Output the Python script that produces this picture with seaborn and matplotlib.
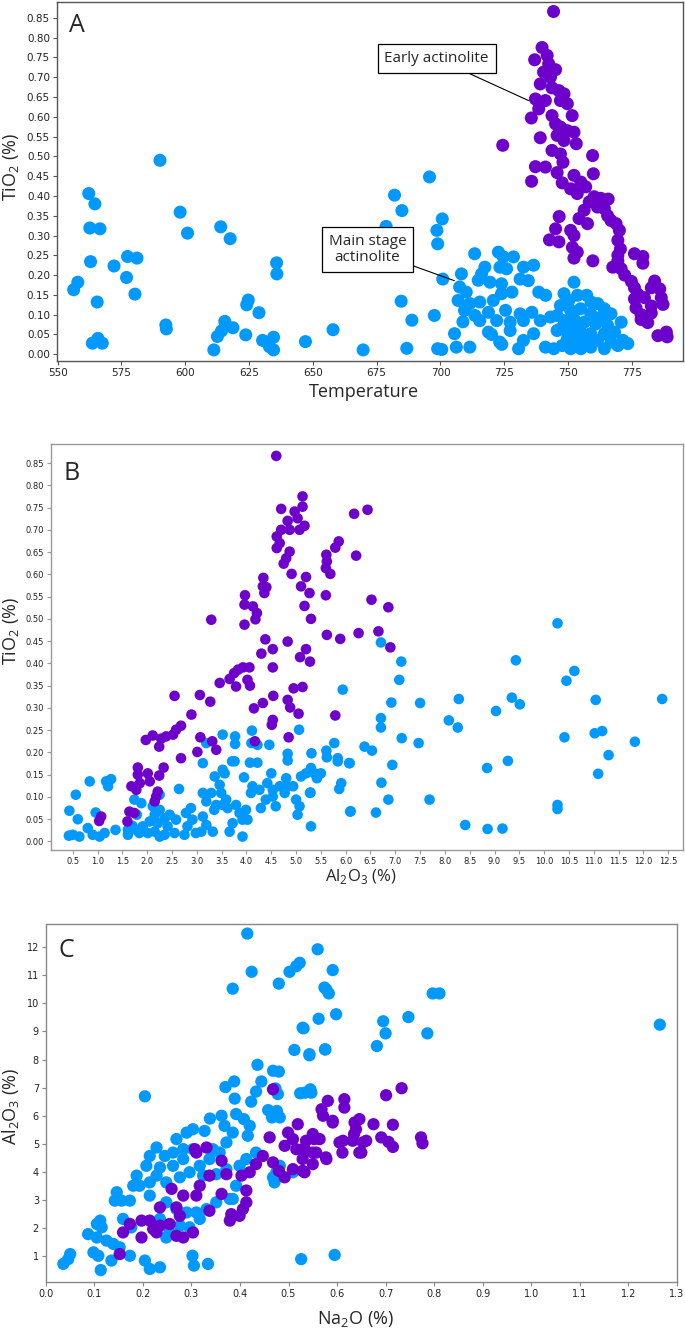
import matplotlib
matplotlib.use("Agg")
import matplotlib.pyplot as plt
import seaborn as sns
import pandas as pd
import numpy as np
from matplotlib.ticker import FormatStrFormatter

BLUE = "#0099ff"
PURPLE = "#6e00cc"

# Panel A: temperature vs TiO2 (%)
a_main = [(556.3, 0.163), (557.9, 0.182), (562.2, 0.406), (564.6, 0.380), (562.6, 0.319), (566.6, 0.317),
          (562.9, 0.234), (565.5, 0.132), (563.6, 0.028), (565.8, 0.040), (567.5, 0.028), (572.1, 0.223),
          (577.4, 0.247), (581.1, 0.243), (577.0, 0.194), (580.3, 0.152), (590.1, 0.490), (592.4, 0.074),
          (592.6, 0.064), (598.0, 0.359), (600.9, 0.306), (611.2, 0.011), (612.6, 0.045), (614.2, 0.059),
          (615.5, 0.083), (618.7, 0.067), (613.9, 0.322), (617.6, 0.292), (623.7, 0.049), (624.1, 0.125),
          (624.7, 0.137), (628.9, 0.105), (630.3, 0.035), (633.0, 0.019), (634.6, 0.011), (634.6, 0.043),
          (635.8, 0.231), (635.9, 0.203), (647.1, 0.032), (657.9, 0.062), (669.7, 0.011), (678.7, 0.323),
          (682.0, 0.402), (684.9, 0.363), (684.6, 0.134), (686.8, 0.015), (688.8, 0.086),
          (695.7, 0.448), (700.7, 0.342), (698.6, 0.313), (698.9, 0.279), (700.9, 0.190), (697.6, 0.098),
          (698.9, 0.014), (700.5, 0.012), (708.2, 0.203), (713.4, 0.254), (722.7, 0.258), (724.6, 0.246),
          (728.6, 0.246), (732.5, 0.220), (736.5, 0.225), (717.4, 0.220), (723.3, 0.220), (725.9, 0.216),
          (716.1, 0.203), (714.8, 0.187), (719.4, 0.182), (723.9, 0.178), (731.2, 0.190), (734.4, 0.186),
          (738.5, 0.157), (741.2, 0.149), (752.3, 0.182), (707.5, 0.170), (710.1, 0.157), (706.9, 0.136),
          (711.5, 0.128), (715.4, 0.132), (720.7, 0.136), (723.9, 0.153), (728.0, 0.157), (709.4, 0.111),
          (713.5, 0.098), (718.8, 0.106), (725.5, 0.111), (731.2, 0.102), (735.8, 0.106), (708.8, 0.082),
          (715.4, 0.085), (722.0, 0.085), (727.3, 0.081), (732.5, 0.085), (739.1, 0.085), (743.1, 0.094),
          (705.5, 0.052), (706.2, 0.018), (711.5, 0.018), (718.8, 0.056), (723.2, 0.031), (727.3, 0.060),
          (730.6, 0.014), (732.5, 0.035), (736.5, 0.052), (741.1, 0.018), (744.4, 0.014), (747.7, 0.022),
          (745.7, 0.060), (748.4, 0.153), (750.3, 0.136), (753.7, 0.149), (757.3, 0.149), (759.0, 0.132),
          (761.6, 0.128), (764.2, 0.115), (766.8, 0.102), (770.8, 0.081), (747.0, 0.123), (751.0, 0.111),
          (754.9, 0.115), (758.9, 0.102), (762.9, 0.094), (745.7, 0.098), (748.4, 0.085), (752.3, 0.089),
          (756.3, 0.081), (760.9, 0.077), (765.5, 0.073), (747.0, 0.064), (751.0, 0.060), (755.0, 0.056),
          (758.9, 0.052), (764.2, 0.052), (768.2, 0.056), (749.7, 0.039), (753.6, 0.035), (757.6, 0.039),
          (761.5, 0.035), (766.8, 0.031), (751.0, 0.014), (755.0, 0.014), (758.9, 0.018), (764.2, 0.014),
          (769.5, 0.022), (773.4, 0.027), (771.5, 0.035), (752.3, 0.069), (720.0, 0.050), (724.0, 0.025)]

a_early = [(744.3, 0.866), (739.8, 0.775), (736.9, 0.744), (741.8, 0.755), (742.4, 0.734), (745.1, 0.719),
           (740.4, 0.713), (743.1, 0.700), (739.1, 0.683), (743.7, 0.673), (746.4, 0.666), (748.4, 0.658),
           (737.2, 0.645), (741.1, 0.641), (747.0, 0.641), (749.7, 0.633), (738.5, 0.620), (751.6, 0.603),
           (735.6, 0.597), (743.7, 0.603), (745.1, 0.582), (747.0, 0.574), (749.7, 0.565), (752.3, 0.561),
           (739.1, 0.547), (745.7, 0.553), (748.4, 0.540), (753.2, 0.532), (724.4, 0.528), (743.7, 0.515),
           (747.0, 0.506), (748.0, 0.485), (759.6, 0.502), (737.2, 0.474), (741.1, 0.473), (745.7, 0.459),
           (759.9, 0.456), (735.7, 0.437), (752.3, 0.452), (747.7, 0.433), (755.0, 0.435), (751.0, 0.418),
           (756.9, 0.423), (753.6, 0.406), (760.2, 0.398), (762.8, 0.394), (765.7, 0.392), (758.3, 0.385),
           (761.5, 0.372), (764.2, 0.368), (756.3, 0.364), (746.5, 0.348), (754.3, 0.343), (765.5, 0.350),
           (757.6, 0.330), (766.8, 0.338), (768.8, 0.330), (745.1, 0.317), (751.0, 0.313), (770.1, 0.313),
           (752.3, 0.300), (742.7, 0.289), (746.4, 0.284), (769.5, 0.288), (751.7, 0.270), (770.5, 0.266),
           (753.6, 0.258), (776.0, 0.254), (769.5, 0.250), (779.3, 0.247), (752.3, 0.243), (769.5, 0.236),
           (759.7, 0.236), (779.3, 0.230), (767.5, 0.220), (770.8, 0.216), (772.2, 0.200), (774.8, 0.184),
           (783.9, 0.185), (776.0, 0.168), (782.6, 0.168), (777.3, 0.152), (785.9, 0.165), (776.0, 0.140),
           (779.9, 0.143), (786.5, 0.143), (776.6, 0.117), (782.6, 0.122), (787.2, 0.126), (778.6, 0.100),
           (782.6, 0.104), (781.2, 0.080), (778.6, 0.088), (785.2, 0.047), (788.5, 0.056), (788.8, 0.044)]

# Panel B: Al2O3 (%) vs TiO2 (%)
b_main = [(5.94, 0.341), (6.38, 0.213), (0.42, 0.013), (0.50, 0.015), (0.63, 0.011), (0.80, 0.030),
          (0.90, 0.015), (1.04, 0.011), (1.14, 0.019), (1.36, 0.026), (0.43, 0.069), (0.60, 0.050),
          (0.56, 0.105), (0.84, 0.135), (0.96, 0.065), (1.17, 0.135), (1.27, 0.140), (1.21, 0.124),
          (1.61, 0.015), (1.61, 0.026), (1.74, 0.094), (1.88, 0.086), (1.78, 0.026), (1.91, 0.034),
          (2.05, 0.045), (1.84, 0.019), (2.01, 0.019), (2.15, 0.022), (2.25, 0.011), (2.35, 0.015),
          (2.21, 0.041), (2.15, 0.060), (2.11, 0.079), (2.25, 0.071), (2.25, 0.105), (2.35, 0.052),
          (2.41, 0.034), (2.55, 0.019), (2.58, 0.049), (2.64, 0.118), (2.75, 0.015), (2.78, 0.064),
          (2.88, 0.075), (2.91, 0.049), (2.81, 0.034), (2.98, 0.019), (3.12, 0.109), (3.19, 0.090),
          (3.12, 0.056), (3.19, 0.037), (3.09, 0.022), (3.32, 0.022), (3.29, 0.109), (3.36, 0.146),
          (3.39, 0.082), (3.46, 0.127), (3.56, 0.153), (3.52, 0.161), (3.49, 0.109), (3.59, 0.094),
          (3.66, 0.022), (3.72, 0.041), (3.79, 0.082), (3.86, 0.064), (3.92, 0.049), (3.92, 0.011),
          (3.99, 0.071), (4.02, 0.049), (4.09, 0.109), (4.12, 0.124), (4.26, 0.116), (4.29, 0.075),
          (4.39, 0.094), (4.42, 0.131), (4.53, 0.116), (4.53, 0.101), (4.59, 0.079), (4.67, 0.124),
          (4.77, 0.109), (4.83, 0.124), (4.80, 0.142), (4.94, 0.124), (5.00, 0.094), (5.03, 0.060),
          (5.07, 0.079), (5.10, 0.146), (5.20, 0.153), (5.30, 0.165), (5.37, 0.153), (5.42, 0.142),
          (5.50, 0.153), (5.28, 0.109), (5.30, 0.034), (3.76, 0.180), (3.71, 0.180), (3.12, 0.176),
          (3.52, 0.240), (3.77, 0.236), (3.77, 0.219), (3.19, 0.221), (3.95, 0.144), (4.07, 0.177),
          (4.22, 0.177), (4.11, 0.249), (4.10, 0.221), (4.22, 0.217), (4.46, 0.217), (4.50, 0.153),
          (4.83, 0.197), (4.83, 0.182), (5.06, 0.251), (5.31, 0.198), (5.61, 0.204), (5.62, 0.189),
          (5.77, 0.221), (5.84, 0.187), (5.84, 0.180), (6.07, 0.176), (5.91, 0.131), (5.87, 0.118),
          (6.09, 0.067), (3.35, 0.071), (3.52, 0.082), (3.62, 0.075), (6.71, 0.447), (7.12, 0.404),
          (7.08, 0.363), (6.92, 0.312), (7.50, 0.311), (8.28, 0.320), (8.08, 0.272), (8.26, 0.256),
          (9.03, 0.293), (9.35, 0.323), (9.51, 0.308), (9.43, 0.407), (10.27, 0.490), (10.61, 0.383),
          (10.45, 0.361), (11.04, 0.318), (12.38, 0.320), (6.71, 0.277), (6.71, 0.256), (7.13, 0.232),
          (7.47, 0.221), (6.53, 0.204), (6.94, 0.172), (6.72, 0.132), (6.86, 0.094), (6.61, 0.065),
          (6.10, 0.068), (6.08, 0.176), (7.69, 0.094), (8.85, 0.165), (9.27, 0.181), (8.41, 0.037),
          (8.86, 0.028), (9.16, 0.029), (10.41, 0.234), (10.27, 0.082), (10.27, 0.073), (11.02, 0.243),
          (11.17, 0.248), (11.09, 0.152), (11.30, 0.194), (11.83, 0.224), (5.29, 0.110), (1.79, 0.060),
          (1.70, 0.035), (2.45, 0.060)]

b_early = [(4.60, 0.866), (5.13, 0.775), (4.70, 0.747), (4.97, 0.741), (5.13, 0.752), (4.83, 0.720),
           (5.03, 0.726), (4.70, 0.700), (4.87, 0.700), (5.07, 0.700), (5.17, 0.709), (4.61, 0.685),
           (4.67, 0.670), (4.61, 0.659), (4.87, 0.651), (4.80, 0.636), (4.75, 0.624), (4.91, 0.601),
           (5.20, 0.594), (5.10, 0.573), (5.27, 0.558), (5.17, 0.529), (5.30, 0.500), (4.34, 0.592),
           (4.33, 0.573), (4.40, 0.571), (4.36, 0.558), (3.97, 0.553), (3.96, 0.532), (4.13, 0.528),
           (4.21, 0.513), (4.18, 0.499), (3.96, 0.487), (3.29, 0.498), (4.38, 0.454), (4.83, 0.449),
           (4.53, 0.432), (4.30, 0.422), (4.53, 0.391), (5.20, 0.432), (5.08, 0.414), (5.28, 0.404),
           (5.61, 0.644), (5.62, 0.629), (5.60, 0.614), (5.69, 0.601), (5.60, 0.553), (5.62, 0.464),
           (5.89, 0.455), (5.79, 0.660), (5.86, 0.674), (6.17, 0.736), (6.21, 0.642), (6.44, 0.745),
           (6.26, 0.468), (4.06, 0.391), (3.93, 0.391), (3.83, 0.386), (3.75, 0.378), (3.66, 0.365),
           (3.79, 0.348), (4.02, 0.363), (4.07, 0.350), (3.46, 0.356), (3.27, 0.314), (3.06, 0.329),
           (2.55, 0.327), (2.89, 0.285), (4.15, 0.299), (4.33, 0.311), (4.54, 0.327), (4.53, 0.273),
           (4.51, 0.262), (4.83, 0.318), (4.88, 0.301), (5.05, 0.287), (4.95, 0.344), (5.13, 0.347),
           (5.79, 0.283), (2.68, 0.260), (2.58, 0.251), (2.52, 0.240), (2.38, 0.236), (2.28, 0.231),
           (2.11, 0.238), (1.97, 0.228), (2.24, 0.213), (3.07, 0.234), (3.31, 0.225), (3.39, 0.206),
           (3.01, 0.201), (2.68, 0.187), (4.17, 0.225), (4.85, 0.234), (2.33, 0.166), (1.81, 0.166),
           (2.01, 0.153), (1.81, 0.150), (2.24, 0.148), (1.68, 0.124), (1.85, 0.131), (2.05, 0.135),
           (1.78, 0.116), (2.18, 0.101), (2.21, 0.112), (2.15, 0.090), (1.64, 0.067), (1.74, 0.064),
           (1.60, 0.045), (1.07, 0.056), (1.03, 0.046), (6.52, 0.543), (6.86, 0.526), (6.66, 0.472),
           (6.90, 0.436)]

# Panel C: Na2O (%) vs Al2O3 (%)
c_main = [(0.415, 12.48), (0.560, 11.92), (0.424, 11.12), (0.502, 11.12), (0.516, 11.32), (0.523, 11.44),
          (0.591, 11.18), (0.480, 10.70), (0.385, 10.52), (0.574, 10.56), (0.583, 10.35), (0.598, 9.61),
          (0.562, 9.45), (0.529, 9.13), (0.512, 8.34), (0.543, 8.19), (0.575, 8.36), (0.436, 7.81),
          (0.468, 7.60), (0.480, 7.57), (0.444, 7.22), (0.433, 6.86), (0.423, 6.50), (0.388, 7.22),
          (0.370, 7.02), (0.389, 6.61), (0.204, 6.69), (0.473, 6.97), (0.478, 6.77), (0.524, 6.80),
          (0.545, 6.94), (0.547, 6.82), (0.458, 6.20), (0.476, 6.17), (0.482, 5.94), (0.466, 5.94),
          (0.392, 6.06), (0.408, 5.88), (0.420, 5.64), (0.416, 5.29), (0.338, 5.90), (0.362, 6.00),
          (0.368, 5.64), (0.385, 5.40), (0.303, 5.52), (0.290, 5.40), (0.327, 5.46), (0.269, 5.17),
          (0.228, 4.87), (0.214, 4.57), (0.245, 4.57), (0.262, 4.69), (0.283, 4.81), (0.303, 4.81),
          (0.344, 4.81), (0.372, 5.05), (0.358, 4.69), (0.337, 4.46), (0.317, 4.22), (0.283, 4.46),
          (0.262, 4.22), (0.235, 4.16), (0.207, 4.22), (0.187, 3.87), (0.180, 3.51), (0.193, 3.51),
          (0.214, 3.63), (0.228, 3.87), (0.248, 3.63), (0.276, 3.81), (0.296, 3.99), (0.324, 3.87),
          (0.351, 3.92), (0.372, 4.10), (0.399, 4.22), (0.413, 4.46), (0.433, 4.69), (0.392, 3.51),
          (0.379, 3.04), (0.351, 2.92), (0.331, 2.68), (0.310, 2.56), (0.290, 2.56), (0.269, 2.68),
          (0.248, 2.92), (0.235, 2.33), (0.255, 1.85), (0.248, 1.67), (0.276, 2.09), (0.296, 2.03),
          (0.317, 2.33), (0.146, 3.28), (0.156, 2.98), (0.173, 2.98), (0.142, 2.98), (0.214, 3.16),
          (0.112, 2.27), (0.105, 2.15), (0.115, 2.03), (0.087, 1.79), (0.105, 1.67), (0.125, 1.56),
          (0.139, 1.44), (0.159, 2.33), (0.176, 2.03), (0.152, 1.32), (0.098, 1.14), (0.108, 1.02),
          (0.135, 0.85), (0.173, 1.02), (0.036, 0.73), (0.050, 1.08), (0.046, 0.90), (0.113, 0.51),
          (0.204, 0.85), (0.214, 0.55), (0.235, 0.61), (0.302, 1.02), (0.305, 0.67), (0.334, 0.73),
          (0.526, 0.90), (0.595, 1.05), (0.468, 3.81), (0.475, 3.99), (0.482, 4.22), (0.509, 3.99),
          (0.471, 3.63), (0.385, 3.04), (0.578, 10.49), (0.797, 10.35), (0.811, 10.35), (1.265, 9.24),
          (0.747, 9.51), (0.695, 9.36), (0.700, 8.93), (0.786, 8.93), (0.682, 8.48), (0.531, 9.11),
          (0.576, 8.36), (0.543, 8.15), (0.534, 6.82)]

c_early = [(0.468, 6.94), (0.581, 6.53), (0.615, 6.59), (0.615, 6.29), (0.571, 6.00), (0.591, 5.82),
           (0.519, 5.70), (0.646, 5.88), (0.639, 5.52), (0.499, 5.40), (0.509, 5.17), (0.461, 5.23),
           (0.550, 5.35), (0.564, 5.17), (0.536, 5.11), (0.612, 5.11), (0.632, 5.11), (0.653, 5.05),
           (0.650, 4.69), (0.492, 4.93), (0.516, 4.81), (0.536, 4.75), (0.557, 4.69), (0.577, 4.52),
           (0.529, 4.46), (0.550, 4.28), (0.529, 4.04), (0.509, 4.10), (0.492, 3.81), (0.468, 4.34),
           (0.480, 4.04), (0.447, 4.57), (0.433, 4.28), (0.420, 3.99), (0.403, 3.87), (0.413, 3.34),
           (0.406, 2.68), (0.399, 2.44), (0.413, 2.92), (0.382, 2.50), (0.379, 2.27), (0.362, 3.22),
           (0.362, 4.40), (0.372, 3.92), (0.337, 3.87), (0.331, 4.87), (0.310, 4.69), (0.317, 3.51),
           (0.337, 2.62), (0.310, 3.16), (0.283, 3.16), (0.259, 3.40), (0.235, 2.74), (0.269, 2.74),
           (0.276, 2.44), (0.255, 2.15), (0.235, 2.09), (0.214, 2.27), (0.197, 2.27), (0.173, 2.15),
           (0.159, 1.85), (0.197, 1.67), (0.221, 1.97), (0.228, 1.85), (0.269, 1.73), (0.283, 1.67),
           (0.303, 1.85), (0.152, 1.08), (0.307, 4.81), (0.733, 6.98), (0.701, 6.73), (0.568, 6.23),
           (0.591, 5.76), (0.636, 5.76), (0.675, 5.70), (0.715, 5.68), (0.635, 5.35), (0.605, 5.05),
           (0.660, 5.11), (0.691, 5.23), (0.706, 5.07), (0.715, 4.89), (0.773, 5.23), (0.776, 5.02),
           (0.646, 4.69), (0.611, 4.69), (0.553, 5.17), (0.550, 4.69), (0.578, 4.46), (0.533, 3.99),
           (0.529, 4.81)]

a_xticks = [550, 575, 600, 625, 650, 675, 700, 725, 750, 775]
a_yticks = [0.00, 0.05, 0.10, 0.15, 0.20, 0.25, 0.30, 0.35, 0.40, 0.45, 0.50, 0.55, 0.60, 0.65, 0.70, 0.75, 0.80, 0.85]
b_xticks = [0.5, 1.0, 1.5, 2.0, 2.5, 3.0, 3.5, 4.0, 4.5, 5.0, 5.5, 6.0, 6.5, 7.0, 7.5, 8.0, 8.5, 9.0, 9.5,
            10.0, 10.5, 11.0, 11.5, 12.0, 12.5]
c_xticks = [0.0, 0.1, 0.2, 0.3, 0.4, 0.5, 0.6, 0.7, 0.8, 0.9, 1.0, 1.1, 1.2, 1.3]
c_yticks = [1, 2, 3, 4, 5, 6, 7, 8, 9, 10, 11, 12]


def make_frame(main, early):
    rows = [(x, y, "Main stage") for x, y in main] + [(x, y, "Early") for x, y in early]
    return pd.DataFrame(rows, columns=["x", "y", "stage"])


sns.set_style("white")
plt.rcParams["font.family"] = ["DejaVu Sans"]
LABEL_FONT = ["Open Sans", "DejaVu Sans"]

fig = plt.figure(figsize=(6.85, 13.37), dpi=100)
ax_a = fig.add_axes([0.083, 0.730, 0.914, 0.2685])
ax_b = fig.add_axes([0.0745, 0.3643, 0.9226, 0.3037])
ax_c = fig.add_axes([0.067, 0.0411, 0.921, 0.2678])

palette = {"Main stage": BLUE, "Early": PURPLE}
panels = [
    (ax_a, make_frame(a_main, a_early), 88, "#555555"),
    (ax_b, make_frame(b_main, b_early), 58, "#999999"),
    (ax_c, make_frame(c_main, c_early), 78, "#888888"),
]
for ax, df, size, spine_col in panels:
    sns.scatterplot(data=df, x="x", y="y", hue="stage", palette=palette, s=size,
                    linewidth=0, alpha=1, legend=False, ax=ax)
    for sp in ax.spines.values():
        sp.set_color(spine_col)
        sp.set_linewidth(1.0)
    ax.tick_params(direction="out", length=3, width=0.8, color=spine_col, pad=2,
                   bottom=True, left=True, labelcolor="#222222")

# panel A
ax_a.set_xlim(549.7, 795)
ax_a.set_ylim(-0.017, 0.89)
ax_a.set_xticks(a_xticks)
ax_a.set_yticks(a_yticks)
ax_a.yaxis.set_major_formatter(FormatStrFormatter("%.2f"))
ax_a.tick_params(labelsize=7.5)
ax_a.set_xlabel("Temperature", fontsize=13, family=LABEL_FONT)
ax_a.set_ylabel("TiO$_\\mathregular{2}$ (%)", fontsize=13, family=LABEL_FONT)
ax_a.xaxis.set_label_coords(0.49, -0.06)
ax_a.yaxis.set_label_coords(-0.058, 0.54)
ax_a.text(0.02, 0.935, "A", transform=ax_a.transAxes, fontsize=18, family=LABEL_FONT,
          ha="left", va="center")
box = dict(boxstyle="square,pad=0.45", fc="white", ec="black", lw=0.9)
ax_a.annotate("Early actinolite", xy=(734.5, 0.641), xytext=(698.5, 0.747),
              fontsize=11, family=LABEL_FONT, ha="center", va="center", bbox=box,
              arrowprops=dict(arrowstyle="-", color="black", lw=0.8, shrinkA=0, shrinkB=0))
ax_a.annotate("Main stage\nactinolite", xy=(705.4, 0.186), xytext=(671.4, 0.265),
              fontsize=11, family=LABEL_FONT, ha="center", va="center", bbox=box,
              linespacing=1.1,
              arrowprops=dict(arrowstyle="-", color="black", lw=0.8, shrinkA=0, shrinkB=0))

# panel B
ax_b.set_xlim(0.06, 12.8)
ax_b.set_ylim(-0.019, 0.893)
ax_b.set_xticks(b_xticks)
ax_b.set_yticks(a_yticks)
ax_b.xaxis.set_major_formatter(FormatStrFormatter("%.1f"))
ax_b.yaxis.set_major_formatter(FormatStrFormatter("%.2f"))
ax_b.tick_params(labelsize=6)
ax_b.set_xlabel("Al$_\\mathregular{2}$O$_\\mathregular{3}$ (%)", fontsize=12, family=LABEL_FONT)
ax_b.set_ylabel("TiO$_\\mathregular{2}$ (%)", fontsize=13, family=LABEL_FONT)
ax_b.xaxis.set_label_coords(0.49, -0.042)
ax_b.yaxis.set_label_coords(-0.048, 0.54)
ax_b.text(0.02, 0.928, "B", transform=ax_b.transAxes, fontsize=18, family=LABEL_FONT,
          ha="left", va="center")

# panel C
ax_c.set_xlim(0.0, 1.3)
ax_c.set_ylim(0.085, 12.82)
ax_c.set_xticks(c_xticks)
ax_c.set_yticks(c_yticks)
ax_c.xaxis.set_major_formatter(FormatStrFormatter("%.1f"))
ax_c.tick_params(labelsize=7)
ax_c.set_xlabel("Na$_\\mathregular{2}$O (%)", fontsize=13, family=LABEL_FONT)
ax_c.set_ylabel("Al$_\\mathregular{2}$O$_\\mathregular{3}$ (%)", fontsize=13, family=LABEL_FONT)
ax_c.xaxis.set_label_coords(0.49, -0.075)
ax_c.yaxis.set_label_coords(-0.04, 0.49)
ax_c.text(0.02, 0.925, "C", transform=ax_c.transAxes, fontsize=18, family=LABEL_FONT,
          ha="left", va="center")

fig.savefig("out.png", dpi=100)
